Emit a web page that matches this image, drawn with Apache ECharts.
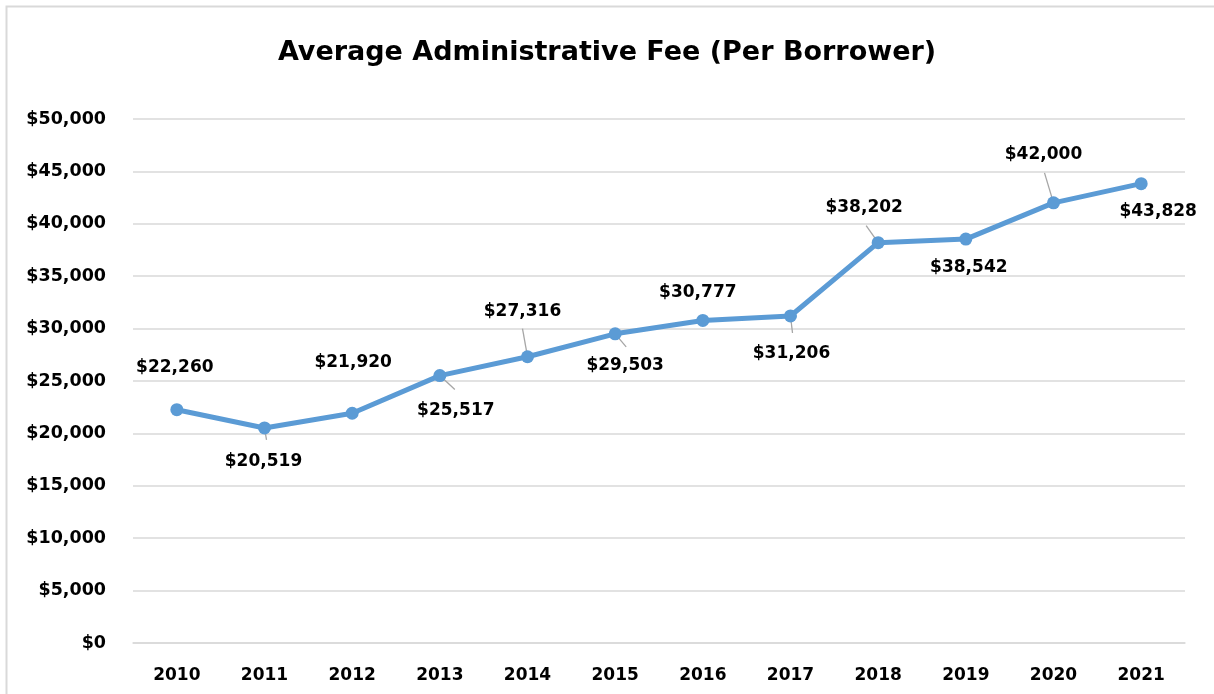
<!DOCTYPE html>
<html>
<head>
<meta charset="utf-8">
<script src="https://cdn.jsdelivr.net/npm/echarts@6/dist/echarts.min.js"></script>
<style>
html,body{margin:0;padding:0;background:#fff;}
#chart{width:1214px;height:694px;}
</style>
</head>
<body>
<div id="chart"></div>
<script>
const title = "Average Administrative Fee (Per Borrower)";
const years = ["2010","2011","2012","2013","2014","2015","2016","2017","2018","2019","2020","2021"];
const fees = [22260,20519,21920,25517,27316,29503,30777,31206,38202,38542,42000,43828];
const yTicks = [0,5000,10000,15000,20000,25000,30000,35000,40000,45000,50000];

// label placement (px offsets of label centre from its point) and leader ends
const labelOffsets = [[-2,-42],[-1,34],[1,-51],[16,35],[-5,-45],[10,32],[-5,-28],[1,38],[-14,-35],[3,28],[-10,-48],[17,28]];
const leaderEnds = [null,[2,12],null,[15,14],[-5,-28],[11,13],null,[2,17],[-12,-17],null,[-9,-30],null];

const FONT = "'DejaVu Sans', sans-serif";
function money(v){ return "$" + v.toLocaleString("en-US"); }

const chart = echarts.init(document.getElementById("chart"), null, {renderer:"canvas"});
chart.setOption({
  animation:false,
  backgroundColor:"#fff",
  graphic:[{type:"rect", shape:{x:6.5,y:6.5,width:1230,height:720}, style:{fill:null, stroke:"#d9d9d9", lineWidth:2}, silent:true, z:-10}],
  title:{text:title, left:"center", top:34, textStyle:{fontFamily:FONT, fontSize:27, fontWeight:"bold", color:"#000"}},
  grid:{left:133, right:29, top:119, bottom:51, containLabel:false},
  xAxis:{type:"category", data:years, boundaryGap:true,
    axisLine:{show:true, lineStyle:{color:"#d9d9d9", width:1.5}}, axisTick:{show:false},
    axisLabel:{fontFamily:FONT, fontSize:17, fontWeight:"bold", color:"#000", margin:24}},
  yAxis:{type:"value", min:0, max:50000, interval:5000,
    axisLine:{show:false}, axisTick:{show:false},
    splitLine:{lineStyle:{color:"#d9d9d9", width:1.5}},
    axisLabel:{fontFamily:FONT, fontSize:17.5, fontWeight:"bold", color:"#000", margin:27,
      formatter:function(v){ return money(v); }}},
  series:[
    {type:"custom", z:1, silent:true, data:fees.map((v,i)=>[i,v]),
      renderItem:function(params, api){
        const i = params.dataIndex;
        const p = api.coord([api.value(0), api.value(1)]);
        const children = [];
        const le = leaderEnds[i];
        if(le){
          children.push({type:"line", shape:{x1:p[0], y1:p[1], x2:p[0]+le[0], y2:p[1]+le[1]},
            style:{stroke:"#a6a6a6", lineWidth:1.3}});
        }
        return {type:"group", children:children};
      }},
    {type:"line", z:3, data:fees, symbol:"circle", symbolSize:13,
      lineStyle:{color:"#5b9bd5", width:5}, itemStyle:{color:"#5b9bd5"}, label:{show:false}},
    {type:"custom", z:5, silent:true, data:fees.map((v,i)=>[i,v]),
      renderItem:function(params, api){
        const i = params.dataIndex;
        const p = api.coord([api.value(0), api.value(1)]);
        const o = labelOffsets[i];
        return {type:"text", x:p[0]+o[0], y:p[1]+o[1],
          style:{text:money(fees[i]), fontFamily:FONT, fontSize:17, fontWeight:"bold", fill:"#000",
            align:"center", verticalAlign:"middle"}};
      }}
  ]
});
</script>
</body>
</html>
